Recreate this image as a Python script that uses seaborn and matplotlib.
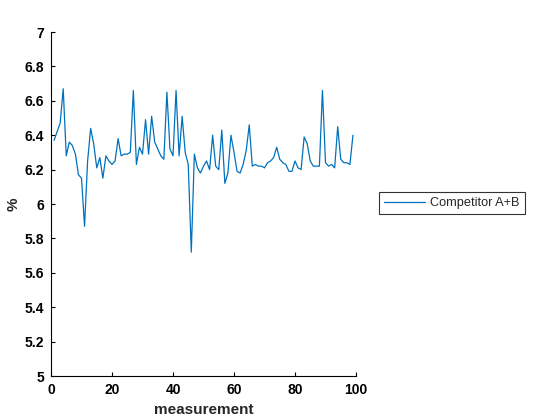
import matplotlib
matplotlib.use("Agg")
import matplotlib.pyplot as plt
import seaborn as sns
import pandas as pd

### DATA
measurement = list(range(1, 100))
competitor_ab = [
    6.37, 6.42, 6.47, 6.67, 6.28, 6.36, 6.34, 6.29, 6.17, 6.15,
    5.87, 6.25, 6.44, 6.35, 6.21, 6.27, 6.15, 6.28, 6.25, 6.23,
    6.25, 6.38, 6.28, 6.29, 6.29, 6.30, 6.66, 6.23, 6.33, 6.29,
    6.49, 6.29, 6.51, 6.36, 6.32, 6.28, 6.26, 6.65, 6.32, 6.28,
    6.66, 6.28, 6.51, 6.30, 6.23, 5.72, 6.29, 6.21, 6.18, 6.22,
    6.25, 6.20, 6.40, 6.22, 6.20, 6.43, 6.12, 6.18, 6.40, 6.30,
    6.19, 6.18, 6.23, 6.31, 6.46, 6.22, 6.23, 6.22, 6.22, 6.21,
    6.24, 6.25, 6.27, 6.33, 6.26, 6.24, 6.23, 6.19, 6.19, 6.25,
    6.21, 6.20, 6.39, 6.35, 6.25, 6.22, 6.22, 6.22, 6.66, 6.24,
    6.22, 6.23, 6.21, 6.45, 6.26, 6.24, 6.24, 6.23, 6.40,
]
series_name = "Competitor A+B"
x_ticks = [0, 20, 40, 60, 80, 100]
y_ticks = [5, 5.2, 5.4, 5.6, 5.8, 6, 6.2, 6.4, 6.6, 6.8, 7]
y_labels = ["5", "5.2", "5.4", "5.6", "5.8", "6", "6.2", "6.4", "6.6", "6.8", "7"]

df = pd.DataFrame({"measurement": measurement, "value": competitor_ab, "series": series_name})

### STYLE
sns.set_theme(style="white")
plt.rcParams["font.family"] = ["Liberation Sans", "DejaVu Sans"]

fig = plt.figure(figsize=(5.6, 4.2), dpi=100)
ax = fig.add_axes([51 / 560, 1 - 376 / 420, 305 / 560, 344 / 420])

sns.lineplot(data=df, x="measurement", y="value", hue="series",
             palette=["#0072BD"], linewidth=0.9, ax=ax, legend=False)

ax.set_xlim(0, 100)
ax.set_ylim(5, 7)
ax.set_xticks(x_ticks)
ax.set_xticklabels([str(t) for t in x_ticks], fontweight="bold", fontsize=10)
ax.set_yticks(y_ticks)
ax.set_yticklabels(y_labels, fontweight="bold", fontsize=10)
ax.tick_params(bottom=True, left=True, direction="in", length=3, width=0.8,
               colors="black", pad=5)
ax.set_xlabel("measurement", fontweight="bold", fontsize=11, labelpad=4)
ax.set_ylabel("%", fontweight="bold", fontsize=11)
ax.yaxis.set_label_coords(-0.10, 0.5)
sns.despine(ax=ax)
for s in ["left", "bottom"]:
    ax.spines[s].set_color("black")
    ax.spines[s].set_linewidth(0.8)

### LEGEND
line = ax.get_lines()[0]
leg = fig.legend([line], [series_name], loc="center",
                 bbox_to_anchor=(452 / 560, 1 - 203 / 420),
                 bbox_transform=fig.transFigure, fontsize=9.2,
                 fancybox=False, frameon=True, handlelength=3.2,
                 borderpad=0.4, handletextpad=0.4)
leg.get_frame().set_edgecolor("black")
leg.get_frame().set_linewidth(0.8)

fig.savefig("out.png", dpi=100)
